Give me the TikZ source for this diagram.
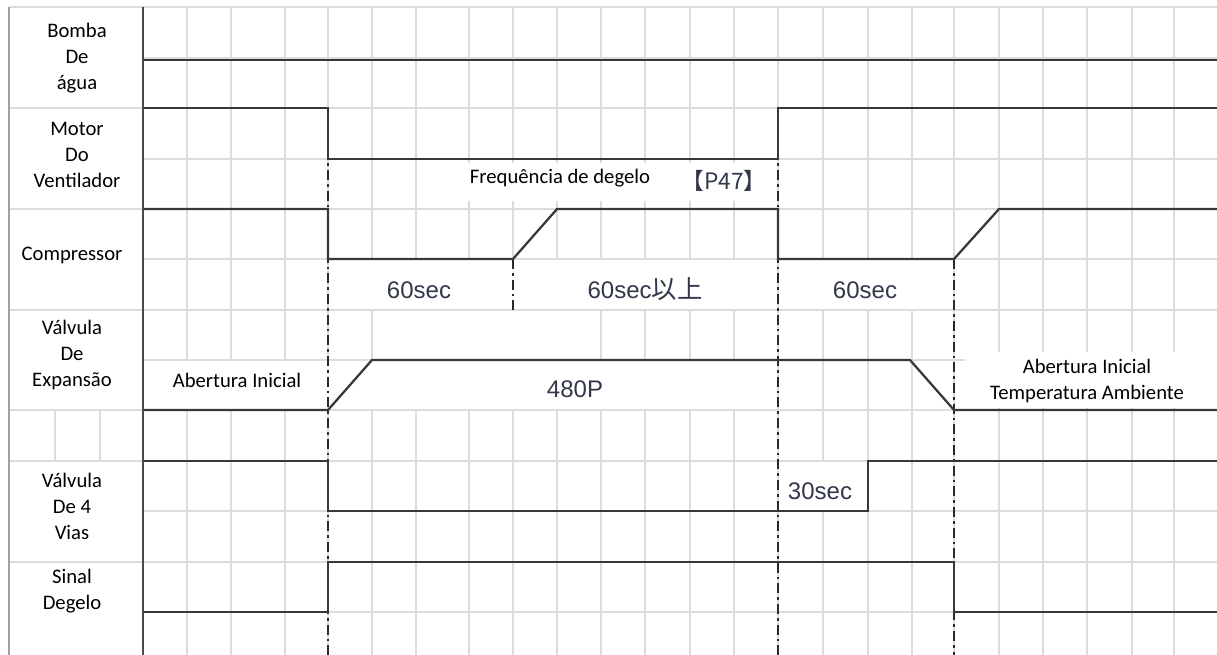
\documentclass[tikz,border=0pt]{standalone}
\usepackage{fontspec}
\setmainfont{Carlito}
\newfontfamily\numfont{Liberation Sans}
\newfontfamily\cjk{Noto Sans CJK JP}

\begin{document}
\begin{tikzpicture}[x=0.75pt,y=-0.75pt,
    gridline/.style={draw=col_grid,line width=1.2pt},
    signal/.style={draw=col_sig,line width=1.7pt,line join=miter},
    marker/.style={draw=col_mark,line width=1.4pt,dash pattern=on 7.5pt off 3pt on 2pt off 3pt},
    blank/.style={fill=white,draw=none},
    rowlabel/.style={align=center,font=\fontsize{15.5}{19.5}\selectfont,inner sep=0pt},
    note/.style={align=center,font=\fontsize{15.5}{19}\selectfont,inner sep=0pt},
    timelabel/.style={font=\numfont\fontsize{18}{20}\selectfont,text=col_num,inner sep=0pt}]
    \definecolor{col_grid}{HTML}{DCDCDC} % light grid
    \definecolor{col_sig}{HTML}{383838}  % signal levels
    \definecolor{col_mark}{HTML}{2A2A2A} % dash-dot time marks
    \definecolor{col_axis}{HTML}{4A4A4A}
    \definecolor{col_border}{HTML}{A0A0A0}
    \definecolor{col_num}{HTML}{32384A}
    \useasboundingbox (0,0) rectangle (1217,655);
    % grid of the chart
    \foreach \y in {7,58,108,159,209,259,310,360,410,461,511,562,612}
        \draw[gridline] (143,\y) -- (1217,\y);
    \foreach \x in {187,231,285,328,372,416,469,513,557,601,645,690,734,778,823,868,912,954,999,1043,1087,1132,1174}
        \draw[gridline] (\x,7) -- (\x,655);
    % label column
    \foreach \y in {7,108,209,310,410,461,562}
        \draw[gridline] (9,\y) -- (143,\y);
    \foreach \x in {55,100}
        \draw[gridline] (\x,410) -- (\x,461);
    \draw[draw=col_border,line width=1.5pt] (9,7) -- (9,655);
    % white patches behind the texts
    \fill[blank] (465,163) rectangle (772,201);
    \fill[blank] (330,260) rectangle (776,309);
    \fill[blank] (780,260) rectangle (952,309);
    \fill[blank] (395,311) rectangle (595,359);
    \fill[blank] (145,361) rectangle (776,409);
    \fill[blank] (965,352) rectangle (1217,408);
    \fill[blank] (780,462) rectangle (866,510);
    % time marks
    \draw[marker] (328,108) -- (328,655);
    \draw[marker] (513,259) -- (513,310);
    \draw[marker] (778,108) -- (778,655);
    \draw[marker] (954,259) -- (954,655);
    % signals
    \draw[signal] (143,60) -- (1217,60);
    \draw[signal] (143,108) -- (328,108) -- (328,159) -- (778,159) -- (778,108) -- (1217,108);
    \draw[signal] (143,209) -- (328,209) -- (328,259) -- (513,259) -- (557,209) -- (778,209) -- (778,259) -- (954,259) -- (999,209) -- (1217,209);
    \draw[signal] (143,410) -- (328,410) -- (372,360) -- (910,360) -- (954,410) -- (1217,410);
    \draw[signal] (143,461) -- (328,461) -- (328,511) -- (868,511) -- (868,461) -- (1217,461);
    \draw[signal] (143,612) -- (328,612) -- (328,562) -- (954,562) -- (954,612) -- (1217,612);
    \draw[draw=col_axis,line width=2.2pt] (143,7) -- (143,655);
    % row names
    \node[rowlabel] (lblBomba) at (77,58) {Bomba\\De\\água};
    \node[rowlabel] (lblMotor) at (77,155) {Motor\\Do\\Ventilador};
    \node[rowlabel] (lblComp) at (72,255) {Compressor};
    \node[rowlabel] (lblExp) at (72,355) {Válvula\\De\\Expansão};
    \node[rowlabel] (lblVias) at (72,506) {Válvula\\De 4\\Vias};
    \node[rowlabel] (lblSinal) at (72,591) {Sinal\\Degelo};
    % texts in the chart
    \node[note] (tFreq) at (560,178) {Frequência de degelo};
    \node[font=\cjk\fontsize{17}{18}\selectfont,text=col_num,inner sep=0pt] (tP47) at (724,181) {【P47】};
    \node[timelabel] (tSixtyA) at (419,290) {60sec};
    \node[timelabel] (tSixtyB) at (645,289) {60sec{\cjk\fontsize{19}{20}\selectfont 以上}};
    \node[timelabel] (tSixtyC) at (865,290) {60sec};
    \node[timelabel] (t480) at (575,389) {480P};
    \node[timelabel] (tThirty) at (820,491) {30sec};
    \node[note] (tAbIni) at (237,380) {Abertura Inicial};
    \node[note] (tAbAmb) at (1087,381) {Abertura Inicial\\Temperatura Ambiente};
\end{tikzpicture}
\end{document}
